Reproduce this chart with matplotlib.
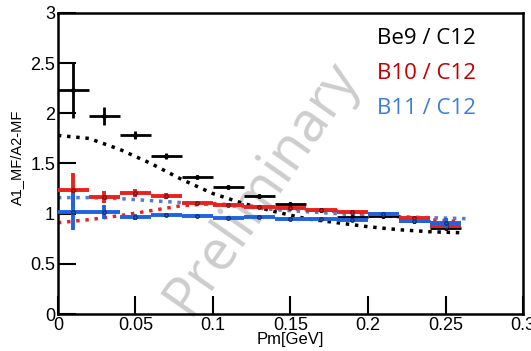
import matplotlib
matplotlib.use("Agg")
import matplotlib.pyplot as plt
import numpy as np

# bin centres and half widths
pm = [0.01, 0.03, 0.05, 0.07, 0.09, 0.11, 0.13, 0.15, 0.17, 0.19, 0.21, 0.23, 0.25]
xerr = 0.01

be9 = [2.23, 1.97, 1.78, 1.57, 1.37, 1.27, 1.18, 1.10, 1.04, 0.97, 0.98, 0.93, 0.86]
be9_err = [0.28, 0.09, 0.04, 0.03, 0.02, 0.02, 0.02, 0.02, 0.02, 0.02, 0.02, 0.02, 0.02]

b10 = [1.24, 1.17, 1.21, 1.18, 1.11, 1.09, 1.07, 1.06, 1.04, 1.02, 1.00, 0.96, 0.88]
b10_err = [0.17, 0.06, 0.04, 0.03, 0.02, 0.02, 0.02, 0.02, 0.02, 0.02, 0.02, 0.02, 0.03]

b11 = [1.02, 1.02, 0.97, 0.99, 0.98, 0.96, 0.97, 0.95, 0.95, 0.94, 1.00, 0.93, 0.91]
b11_err = [0.18, 0.07, 0.03, 0.02, 0.02, 0.02, 0.02, 0.02, 0.02, 0.02, 0.02, 0.02, 0.05]

# dotted model curves
curve_x = [0, 0.02, 0.04, 0.06, 0.08, 0.10, 0.12, 0.14, 0.16, 0.18, 0.20, 0.22, 0.24, 0.26]
be9_curve = [1.78, 1.75, 1.64, 1.50, 1.34, 1.20, 1.10, 1.02, 0.95, 0.91, 0.87, 0.84, 0.82, 0.81]
b10_curve = [0.91, 0.94, 0.98, 1.03, 1.08, 1.10, 1.08, 1.06, 1.04, 1.02, 0.99, 0.97, 0.94, 0.92]
blue_x = [0, 0.02, 0.04, 0.06, 0.08, 0.10, 0.12, 0.14, 0.16, 0.18, 0.20, 0.22, 0.24, 0.265]
b11_curve = [1.16, 1.16, 1.15, 1.13, 1.11, 1.09, 1.07, 1.04, 1.02, 1.00, 0.98, 0.97, 0.96, 0.95]

plt.rcParams['font.family'] = ['Liberation Sans', 'DejaVu Sans']

fig = plt.figure(figsize=(5.31, 3.51), dpi=100)
ax = fig.add_axes([0.109, 0.1054, 0.876, 0.8576])

ax.plot(curve_x, be9_curve, ':', color="black", lw=2.5, zorder=2)
ax.plot(curve_x, b10_curve, ':', color="#e8231e", lw=2.5, zorder=2)
ax.plot(blue_x, b11_curve, ':', color="#4f7fd4", lw=2.5, zorder=2)

ax.errorbar(pm, be9, xerr=xerr, yerr=be9_err, fmt='o', ms=2.5, color="black",
            elinewidth=2, capsize=0, zorder=3)
ax.errorbar(pm, b10, xerr=xerr, yerr=b10_err, fmt='o', ms=2.5, color="#e8231e",
            mec="#7a1010", elinewidth=2.8, capsize=0, zorder=3)
ax.errorbar(pm, b11, xerr=xerr, yerr=b11_err, fmt='o', ms=2.5, color="#1f63e0",
            mec="#103070", elinewidth=2.8, capsize=0, zorder=4)

ax.set_xlim(0, 0.3)
ax.set_ylim(0, 3)
ax.set_xticks([0, 0.05, 0.1, 0.15, 0.2, 0.25, 0.3])
ax.set_xticklabels(["0", "0.05", "0.1", "0.15", "0.2", "0.25", "0.3"])
ax.set_yticks([0, 0.5, 1, 1.5, 2, 2.5, 3])
ax.set_yticklabels(["0", "0.5", "1", "1.5", "2", "2.5", "3"])
ax.tick_params(direction="in", length=13, width=1.5, labelsize=13, pad=2)
for s in ax.spines.values():
    s.set_linewidth(1.8)

ax.set_xlabel("Pm[GeV]", fontsize=12, labelpad=-1)
ax.set_ylabel("A1_MF/A2-MF", fontsize=10.5, labelpad=4)
ax.yaxis.set_label_coords(-0.072, 0.52)

ax.text(0.44, 0.42, "Preliminary", transform=ax.transAxes, fontsize=40,
        family="Open Sans", color="#c4c4c4", alpha=0.85, rotation=55,
        ha="center", va="center", zorder=1)

ax.text(0.685, 0.915, "Be9 / C12", transform=ax.transAxes, fontsize=16,
        family="Open Sans", color="black", va="center")
ax.text(0.685, 0.8, "B10 / C12", transform=ax.transAxes, fontsize=16,
        family="Open Sans", color="#c00000", va="center")
ax.text(0.685, 0.683, "B11 / C12", transform=ax.transAxes, fontsize=16,
        family="Open Sans", color="#3b7de0", va="center")

fig.savefig("out.png", dpi=100)
